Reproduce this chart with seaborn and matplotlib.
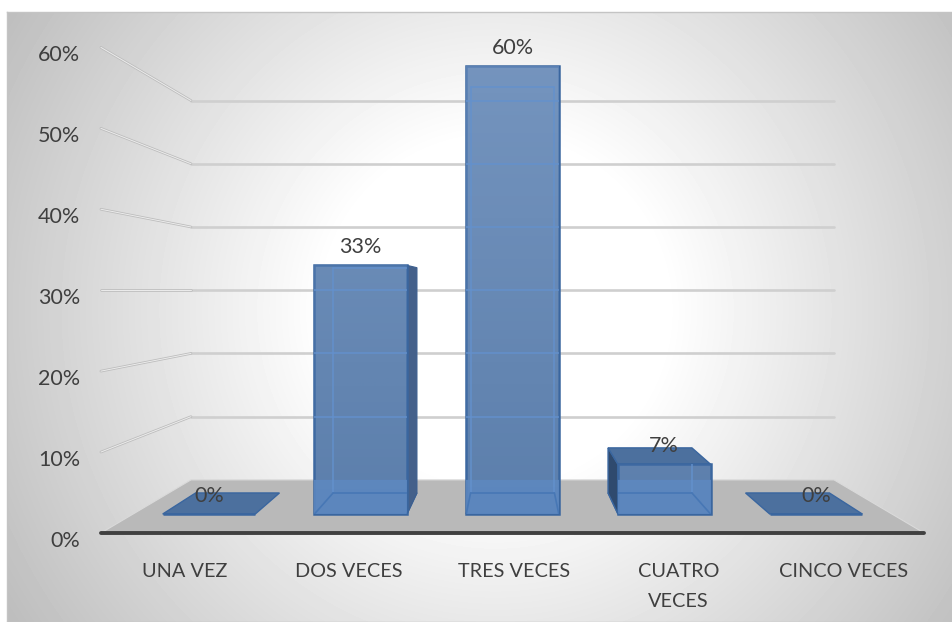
import numpy as np
import matplotlib
matplotlib.use('Agg')
import matplotlib.pyplot as plt
from matplotlib.patches import Polygon
import seaborn as sns

# Datos del grafico
categorias = ['UNA VEZ', 'DOS VECES', 'TRES VECES', 'CUATRO\nVECES', 'CINCO VECES']
valores = [0, 33.33, 60, 6.67, 0]
etiquetas = ['0%', '33%', '60%', '7%', '0%']
ticks_y = [0, 10, 20, 30, 40, 50, 60]

# Calibracion de pixeles y perspectiva
W, H = 953, 622
X0, PX_CAT = 209, 151.75
Y0, PX_VAL = 514, 7.46
S_FRENTE, S_FONDO, S_BARRA = 1.085, 0.8475, 0.906
ANCHO = 0.61
AZUL = '#5c7fac'
BORDE = '#3a669f'
LINEA = '#6391cd'
ARISTA_PISO = '#4777b5'
GRIS = '#3f3f3f'


def proy(x, v, s):
    # punto vanishing en x=2, v=30
    return 2 + (x - 2) * s, 30 + (v - 30) * s


sns.set_theme(style='white')
plt.rcParams['font.family'] = ['Lato', 'DejaVu Sans']

fig = plt.figure(figsize=(W / 100, H / 100), dpi=100, facecolor='white')

# Fondo con degradado radial
fondo = fig.add_axes([7 / W, 0, (W - 7) / W, (H - 12) / H], zorder=0)
yy, xx = np.mgrid[12:H, 7:W]
r = np.hypot(xx - 495, yy - 310) / 570
gris = (255 - 65 * np.clip((r - 0.3) / 0.7, 0, 1)) / 255
fondo.imshow(gris, cmap='gray', vmin=0, vmax=1, aspect='auto')
fondo.set_xticks([])
fondo.set_yticks([])
for lado in fondo.spines.values():
    lado.set_color('#c4c4c4')
    lado.set_linewidth(1)

ax = fig.add_axes([0, 0, 1, 1], zorder=1)
ax.patch.set_alpha(0)

# Barras (cara frontal)
sns.barplot(x=categorias, y=valores, color=AZUL, width=ANCHO, saturation=1,
            edgecolor=BORDE, linewidth=1.8, zorder=10, ax=ax)
ax.set_xlim(-X0 / PX_CAT, (W - X0) / PX_CAT)
ax.set_ylim(-(H - Y0) / PX_VAL, Y0 / PX_VAL)
ax.axis('off')
caras = ax.containers[0].patches

# Piso
piso = Polygon([proy(-0.5, 0, S_FRENTE), proy(4.5, 0, S_FRENTE),
                proy(4.5, 0, S_FONDO), proy(-0.5, 0, S_FONDO)],
               facecolor='#b9b9b9', edgecolor='#dadada', linewidth=0.8, zorder=2)
ax.add_patch(piso)
ax.plot(*zip(proy(-0.5, 0, S_FRENTE), proy(4.5, 0, S_FRENTE)),
        color='#404040', lw=2.8, solid_capstyle='round', zorder=3)

# Lineas de division: fondo y pared izquierda
for v in ticks_y[1:]:
    ax.plot(*zip(proy(-0.5, v, S_FONDO), proy(4.5, v, S_FONDO)), color='#cfcfcf', lw=1.9, zorder=2)
    pared = list(zip(proy(-0.5, v, S_FRENTE), proy(-0.5, v, S_FONDO)))
    ax.plot(*pared, color='#bdbdbd', lw=1.9, zorder=2)
    ax.plot(*pared, color='#ececec', lw=0.7, zorder=2.1)

# Resto de cada barra en perspectiva
for i, v in enumerate(valores):
    a, b = i - ANCHO / 2, i + ANCHO / 2
    base = Polygon([proy(a, 0, 1), proy(b, 0, 1), proy(b, 0, S_BARRA), proy(a, 0, S_BARRA)],
                   facecolor='#4c709e', edgecolor=BORDE, linewidth=1, zorder=4)
    ax.add_patch(base)
    if v == 0:
        continue
    if i < 2:
        lado = Polygon([proy(b, 0, 1), proy(b, v, 1), proy(b, v, S_BARRA), proy(b, 0, S_BARRA)],
                       facecolor='#44608a', edgecolor='#3d5f8f', linewidth=0.8, zorder=5)
        ax.add_patch(lado)
    if i > 2:
        lado = Polygon([proy(a, 0, 1), proy(a, v, 1), proy(a, v, S_BARRA), proy(a, 0, S_BARRA)],
                       facecolor='#2f4a6e', edgecolor=BORDE, linewidth=1, zorder=5)
        ax.add_patch(lado)
    if v < 30:
        tapa = Polygon([proy(a, v, 1), proy(b, v, 1), proy(b, v, S_BARRA), proy(a, v, S_BARRA)],
                       facecolor='#4c709e', edgecolor=BORDE, linewidth=1, zorder=5)
        ax.add_patch(tapa)

    cara = caras[i]
    # zona del piso mas clara vista a traves de la barra
    claro = Polygon(piso.get_xy(), facecolor='#5d88c1', alpha=0.85, edgecolor='none', zorder=10.5)
    ax.add_patch(claro)
    claro.set_clip_path(cara)
    # degradado suave hacia arriba
    brillo = np.zeros((100, 1, 4))
    brillo[..., :3] = (0.8, 0.88, 1)
    brillo[:, 0, 3] = np.linspace(0.22 * v / 60, 0, 100)
    img = ax.imshow(brillo, extent=(i - 1, i + 1, 0, v), aspect='auto', zorder=10.6)
    img.set_clip_path(cara)
    # aristas internas y lineas de division vistas a traves
    internas = [
        (proy(a, 0, S_BARRA), proy(a, v, S_BARRA)),
        (proy(b, 0, S_BARRA), proy(b, v, S_BARRA)),
        (proy(a, v, S_BARRA), proy(b, v, S_BARRA)),
    ]
    internas += [(proy(-0.5, t, S_FONDO), proy(4.5, t, S_FONDO)) for t in ticks_y[1:]]
    for p, q in internas:
        arista, = ax.plot(*zip(p, q), color=LINEA, lw=1.2, alpha=0.85, zorder=11)
        arista.set_clip_path(cara)
    del_piso = [
        (proy(a, 0, S_BARRA), proy(b, 0, S_BARRA)),
        (proy(a, 0, 1), proy(a, 0, S_BARRA)),
        (proy(b, 0, 1), proy(b, 0, S_BARRA)),
    ]
    for p, q in del_piso:
        arista, = ax.plot(*zip(p, q), color=ARISTA_PISO, lw=1.2, zorder=11.5)
        arista.set_clip_path(cara)

ax.set_xlim(-X0 / PX_CAT, (W - X0) / PX_CAT)
ax.set_ylim(-(H - Y0) / PX_VAL, Y0 / PX_VAL)

# Etiquetas de datos
ax.bar_label(ax.containers[0], labels=etiquetas, padding=6, fontsize=15.5, color=GRIS, zorder=20)

# Eje Y
for t in ticks_y:
    ax.annotate(f'{t}%', xy=proy(-0.5, t, S_FRENTE), xytext=(-15, -5.5), textcoords='offset points',
                ha='right', va='center', fontsize=15.5, color=GRIS)

# Eje X
for i, c in enumerate(categorias):
    ax.annotate(c, xy=proy(i, 0, S_FRENTE), xytext=(1, -21.5), textcoords='offset points',
                ha='center', va='top', fontsize=14.3, color=GRIS, linespacing=1.95)

fig.savefig('out.png', dpi=100)
